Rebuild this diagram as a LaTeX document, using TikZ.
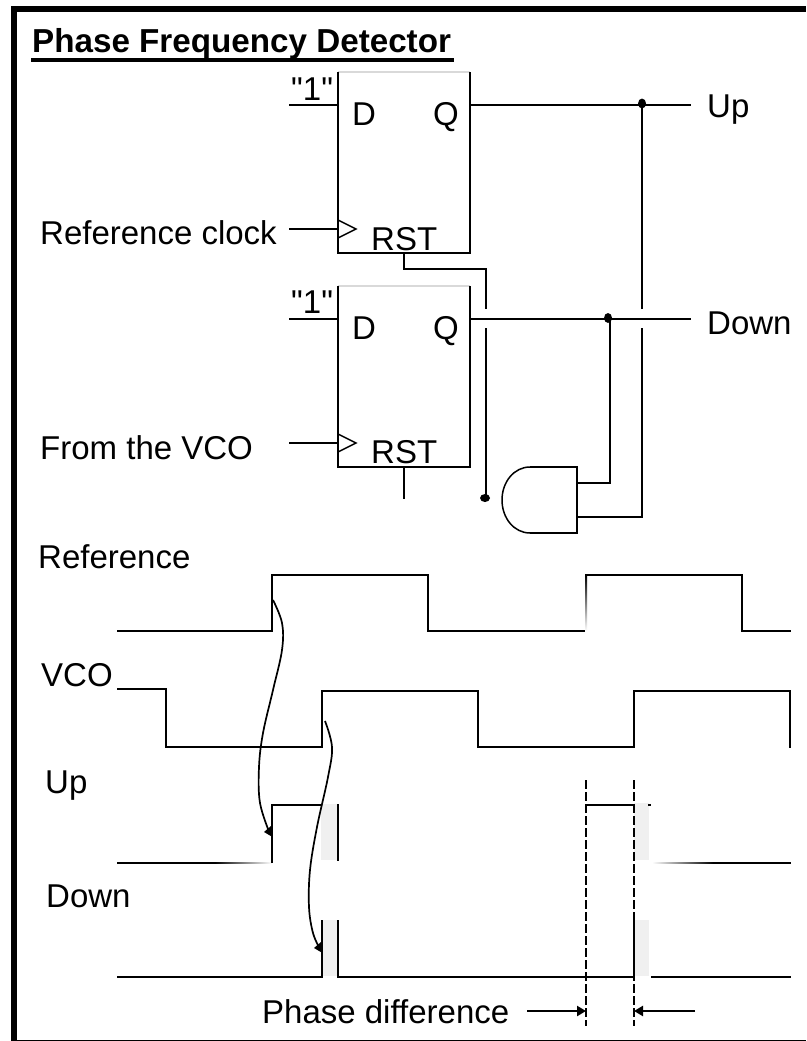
\documentclass[tikz,border=0pt]{standalone}
\usepackage{fontspec}
\setmainfont{Liberation Sans}
\newfontfamily\plainf{Liberation Sans}
\usetikzlibrary{arrows.meta,calc,shapes.geometric}
\tikzset{
  wire/.style={line width=2.4pt,line join=miter,line cap=butt},
  thin wire/.style={line width=1.5pt},
  lbl/.style={anchor=base west,inner sep=0pt,font=\fontsize{33}{36}\selectfont},
  ttl/.style={anchor=base west,inner sep=0pt,font=\fontsize{33.2}{36}\selectfont\bfseries},
  dot/.style={fill=black,draw=none,ellipse,inner sep=0pt},
  band/.style={fill=black!6,draw=none},
  guide/.style={line width=2.3pt,dash pattern=on 9pt off 3pt},
  tip/.style={-{Triangle[length=9pt,width=10pt]}},
  flow/.style={line width=1.7pt,smooth,tension=0.6},
}
\begin{document}
\begin{tikzpicture}[x=1pt,y=-1pt]
\useasboundingbox (0,0) rectangle (806,1041);
\fill[white] (0,0) rectangle (806,1041);
% frame
\fill[black] (11,6) rectangle (806,12);
\fill[black] (11,6) rectangle (17,1041);
\fill[black] (17,1039.5) rectangle (806,1041);
% title
\node[ttl] (title) at (32,52.5) {Phase Frequency Detector};
\fill[black] (31,58) rectangle (453.5,62);
% flip-flop corners
\coordinate (a1) at (338,72); \coordinate (b1) at (470,72);
\coordinate (c1) at (470,253); \coordinate (d1) at (338,253);
\coordinate (a2) at (338,286); \coordinate (b2) at (470,286);
\coordinate (c2) at (470,467); \coordinate (d2) at (338,467);
\draw[black!15,line width=1.6pt] (a1) -- (b1);
\draw[black!15,line width=1.6pt] (a2) -- (b2);
\draw[wire] (a1) -- (d1) -- (c1) -- (b1);
\draw[wire] (a2) -- (d2) -- (c2) -- (b2);
% clock triangles
\draw[thin wire] (338,220) -- (356,229) -- (338,238);
\draw[thin wire] (338,434) -- (356,443) -- (338,452);
% inputs
\coordinate (d1in) at (289,105); \coordinate (d1pin) at (338,105);
\coordinate (k1in) at (289,229); \coordinate (k1pin) at (338,229);
\coordinate (d2in) at (289,319); \coordinate (d2pin) at (338,319);
\coordinate (k2in) at (289,443); \coordinate (k2pin) at (338,443);
\draw[wire] (d1in) -- (d1pin);
\draw[wire] (k1in) -- (k1pin);
\draw[wire] (d2in) -- (d2pin);
\draw[wire] (k2in) -- (k2pin);
% box labels
\node[lbl] (one1) at (291,100) {\plainf "1"};
\node[lbl] (one2) at (291,313) {\plainf "1"};
\node[lbl] (D1) at (352,125) {D};
\node[lbl] (Q1) at (433,125) {Q};
\node[lbl] (D2) at (352,339) {D};
\node[lbl] (Q2) at (433,339) {Q};
\node[lbl] (R1) at (371,250) {RST};
\node[lbl] (R2) at (371,463) {RST};
\node[lbl] (refclk) at (40,244) {Reference clock};
\node[lbl] (fromvco) at (40,459) {From the VCO};
\node[lbl] (upout) at (707,117) {Up};
\node[lbl] (downout) at (707,334) {Down};
% outputs
\coordinate (qu) at (470,105); \coordinate (up) at (691,105);
\coordinate (qd) at (470,319); \coordinate (dn) at (691,319);
\draw[wire] (qu) -- (up);
\draw[wire] (qd) -- (dn);
\node[dot,minimum width=8pt,minimum height=10pt] (ju) at (642,103.5) {};
\node[dot,minimum width=8pt,minimum height=10pt] (jd) at (608,318) {};
% AND gate
\coordinate (g1) at (577,483); \coordinate (g2) at (577,517);
\draw[wire] (530,467) -- (577,467) -- (577,533) -- (530,533);
\draw[thin wire] (530,467) .. controls (514,467) and (502,482) .. (502,500)
   .. controls (502,518) and (514,533) .. (530,533);
% feedback wires
\draw[wire] (g2) -- (642,517) -- (642,328);
\draw[wire] (642,309) -- (ju.center);
\draw[wire] (g1) -- (610,483) -- (610,319);
\node[dot,minimum width=10pt,minimum height=8pt] (jr) at (485,498) {};
\draw[wire] (404,253) -- (404,269) -- (486,269) -- (486,309);
\draw[wire] (486,328) -- (486,498);
\draw[wire] (404,467) -- (404,499);
% timing labels
\node[lbl] (tref) at (38,568) {Reference};
\node[lbl] (tvco) at (41,686) {VCO};
\node[lbl] (tup) at (45,793) {Up};
\node[lbl] (tdown) at (46,907) {Down};
\node[lbl] (tphase) at (262,1023) {Phase difference};
% grey bands
\fill[band] (321,804) rectangle (337.5,860);
\fill[band] (323,920) rectangle (337,976);
\fill[band] (634,803) rectangle (649,860);
\fill[band] (635,920) rectangle (649,976);
% reference waveform
\draw[wire] (117,631) -- (272,631) -- (272,575) -- (428,575) -- (428,631) -- (585,631);
\shade[top color=black,bottom color=white] (585,575) rectangle (587,631);
\draw[wire] (585,575) -- (742,575) -- (742,631) -- (791,631);
% vco waveform
\draw[wire] (117,689) -- (166,689) -- (166,747) -- (322,747) -- (322,691) -- (478,691)
   -- (478,747) -- (634,747) -- (634,691) -- (790,691) -- (790,748);
% up pulses
\fill[black] (117,862) rectangle (215,864);
\shade[left color=black,right color=white] (215,862.5) rectangle (272,863.5);
\draw[wire] (272,863) -- (272,805) -- (322,805);
\draw[wire] (338,804) -- (338,861);
\draw[wire] (586,805) -- (634,805);
\draw[wire] (648,805) -- (651,805);
\shade[left color=white,right color=black] (652,862.5) rectangle (713,863.5);
\fill[black] (713,862) rectangle (791,864);
% down pulses
\draw[wire] (117,977) -- (322,977) -- (322,920);
\draw[wire] (338,920) -- (338,977) -- (634,977) -- (634,918);
\draw[wire] (651,977) -- (791,977);
% dashed guides and arrows
\coordinate (g1t) at (586,780); \coordinate (g1b) at (586,1026);
\coordinate (g2t) at (634,780); \coordinate (g2b) at (634,1026);
\draw[guide] (g1t) -- (g1b);
\draw[guide] (g2t) -- (g2b);
\coordinate (pa) at (527,1011); \coordinate (pb) at (586,1011);
\coordinate (pc) at (695,1011); \coordinate (pd) at (634,1011);
\draw[wire,tip] (pa) -- (pb);
\draw[wire,tip] (pc) -- (pd);
% causal curves
\draw[flow] plot coordinates {(273,600) (282,623) (282,650) (273,690) (263,733) (259,767) (260,803) (270,834)};
\fill[black] (272.5,837) -- (264,832) -- (271,826) -- cycle;
\draw[flow] plot coordinates {(325,721) (332,747) (328,777) (317,827) (310,870) (309,907) (313,933) (320,949)};
\fill[black] (322.5,953) -- (314,948) -- (321,942) -- cycle;
\end{tikzpicture}
\end{document}
